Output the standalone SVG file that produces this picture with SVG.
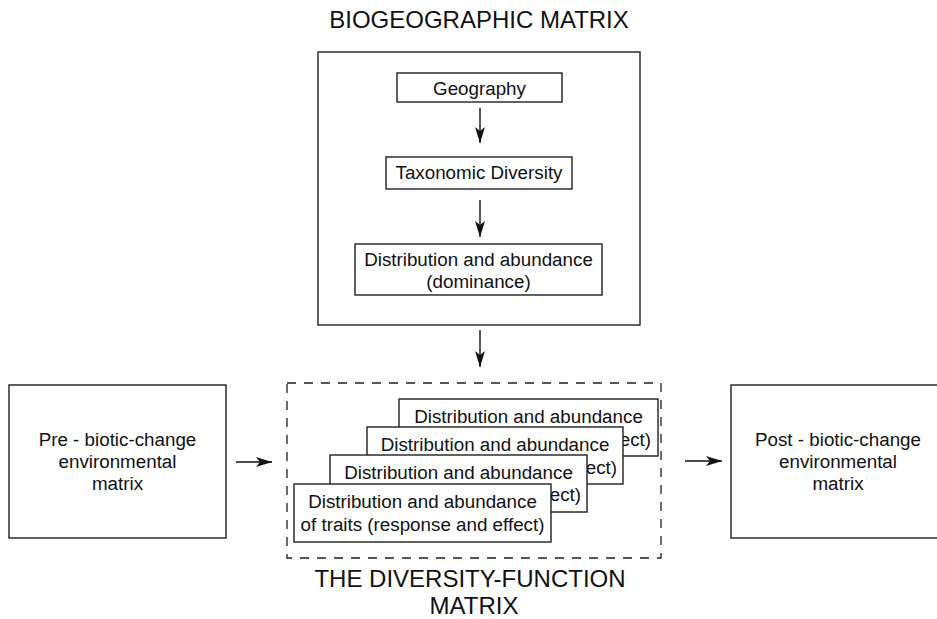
<svg xmlns="http://www.w3.org/2000/svg" width="937" height="619" viewBox="0 0 937 619">
<style>
  .box { fill: #ffffff; stroke: #1e1e1e; stroke-width: 1.4; }
  .dash { fill: none; stroke: #1e1e1e; stroke-width: 1.3; stroke-dasharray: 9 8; }
  .t { font-family: "Liberation Sans", Arial, sans-serif; font-size: 18.8px; fill: #111; text-anchor: middle; }
  .te { font-family: "Liberation Sans", Arial, sans-serif; font-size: 18.8px; fill: #111; text-anchor: end; }
  .title { font-family: "Liberation Sans", Arial, sans-serif; font-size: 24px; fill: #111; text-anchor: middle; }
  .conn { stroke: #111; stroke-width: 1.4; fill: none; marker-end: url(#ah); }
</style>
<defs>
  <marker id="ah" markerUnits="userSpaceOnUse" markerWidth="17" markerHeight="11" refX="16" refY="5" orient="auto">
    <path d="M0,0 L16,5 L0,10 L4,5 z" fill="#111"/>
  </marker>
</defs>
<rect width="937" height="619" fill="#ffffff"/>

<g id="title-biogeographic">
  <text class="title" x="479" y="28">BIOGEOGRAPHIC MATRIX</text>
</g>

<g id="biogeographic-matrix">
  <rect class="box" x="318" y="52" width="322" height="273"/>
</g>
<g id="geography">
  <rect class="box" x="397" y="73" width="165" height="29"/>
  <text class="t" x="479.5" y="95">Geography</text>
</g>
<g id="taxonomic-diversity">
  <rect class="box" x="386" y="157" width="186" height="32"/>
  <text class="t" x="479" y="179">Taxonomic Diversity</text>
</g>
<g id="distribution-dominance">
  <rect class="box" x="355" y="244" width="247" height="51"/>
  <text class="t" x="478.5" y="266">Distribution and abundance</text>
  <text class="t" x="478.5" y="288">(dominance)</text>
</g>

<g id="diversity-function-matrix">
  <rect class="dash" x="287" y="383" width="374" height="175"/>
</g>
<g id="traits-4">
  <rect class="box" x="399" y="399" width="259" height="57"/>
  <text class="t" x="528.5" y="423">Distribution and abundance</text>
  <text class="te" x="651" y="446">ect)</text>
</g>
<g id="traits-3">
  <rect class="box" x="367" y="427" width="256" height="57"/>
  <text class="t" x="495" y="451">Distribution and abundance</text>
  <text class="te" x="617" y="474">ect)</text>
</g>
<g id="traits-2">
  <rect class="box" x="330" y="455" width="257" height="57"/>
  <text class="t" x="458.5" y="479">Distribution and abundance</text>
  <text class="te" x="581" y="501">ect)</text>
</g>
<g id="traits-1">
  <rect class="box" x="294" y="484" width="257" height="58"/>
  <text class="t" x="422.5" y="508">Distribution and abundance</text>
  <text class="t" x="422.5" y="531">of traits (response and effect)</text>
</g>

<g id="title-diversity-function">
  <text class="title" x="470" y="587">THE DIVERSITY-FUNCTION</text>
  <text class="title" x="474" y="614">MATRIX</text>
</g>

<g id="pre-environment">
  <rect class="box" x="9" y="385" width="217" height="153"/>
  <text class="t" x="117.5" y="446">Pre - biotic-change</text>
  <text class="t" x="117.5" y="468">environmental</text>
  <text class="t" x="117.5" y="490">matrix</text>
</g>
<g id="post-environment">
  <rect class="box" x="731" y="385" width="215" height="153"/>
  <text class="t" x="838" y="446">Post - biotic-change</text>
  <text class="t" x="838" y="468">environmental</text>
  <text class="t" x="838" y="490">matrix</text>
</g>

<g id="connectors">
  <line class="conn" x1="480" y1="108" x2="480" y2="143"/>
  <line class="conn" x1="480" y1="200" x2="480" y2="237"/>
  <line class="conn" x1="480" y1="330" x2="480" y2="367"/>
  <line class="conn" x1="236" y1="462" x2="272" y2="462"/>
  <line class="conn" x1="685" y1="461" x2="722" y2="461"/>
</g>
</svg>
